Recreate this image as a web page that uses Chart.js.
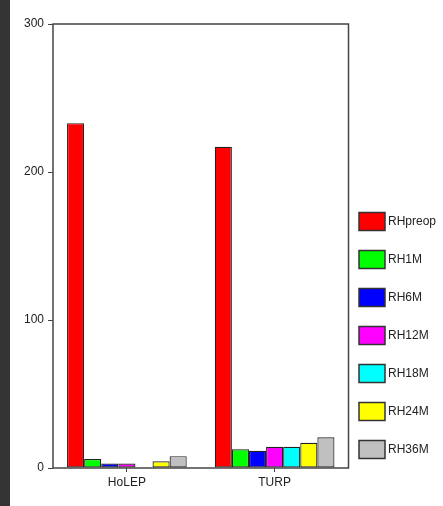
<!DOCTYPE html>
<html>
<head>
<meta charset="utf-8">
<script src="https://cdn.jsdelivr.net/npm/chart.js@4/dist/chart.umd.min.js"></script>
<style>
  html, body { margin: 0; padding: 0; background: #fff; }
  #wrap { position: relative; width: 443px; height: 506px; }
  #strip { position: absolute; left: 0; top: 0; width: 10px; height: 506px; background: #333; }
  canvas { position: absolute; left: 0; top: 0; }
</style>
</head>
<body>
<div id="wrap">
  <div id="strip"></div>
  <canvas id="chart" width="443" height="506"></canvas>
</div>
<script>
'use strict';

// groups on the x axis
var categories = ['HoLEP', 'TURP'];
// one series per follow-up time point
var seriesNames = ['RHpreop', 'RH1M', 'RH6M', 'RH12M', 'RH18M', 'RH24M', 'RH36M'];
var seriesColors = ['#ff0000', '#00ff00', '#0000ff', '#ff00ff', '#00ffff', '#ffff00', '#c0c0c0'];
var rhPreop = [233, 217];
var rh1M = [6, 12.6];
var rh6M = [3, 11.7];
var rh12M = [3, 14.4];
var rh18M = [0, 14.4];
var rh24M = [4.5, 17.1];
var rh36M = [8, 20.7];
var yTicks = [0, 100, 200, 300];

var seriesValues = [rhPreop, rh1M, rh6M, rh12M, rh18M, rh24M, rh36M];

var datasets = seriesNames.map(function(name, i) {
    return {
        label: name,
        data: seriesValues[i],
        backgroundColor: seriesColors[i],
        borderColor: '#222',
        borderWidth: 1.2,
        borderSkipped: false,
        categoryPercentage: 0.81,
        barPercentage: 1
    };
});

var textFont = { family: 'Liberation Sans, Arial, sans-serif', size: 12 };

// box around plot area
var frame = {
    id: 'frame',
    afterDraw: function(chart) {
        var a = chart.chartArea, ctx = chart.ctx;
        ctx.save();
        ctx.strokeStyle = '#444';
        ctx.lineWidth = 1.5;
        ctx.strokeRect(a.left, a.top, a.right - a.left, a.bottom - a.top);
        ctx.restore();
    }
};

// legend column on the right
var sideLegend = {
    id: 'sideLegend',
    afterDraw: function(chart) {
        var ctx = chart.ctx;
        ctx.save();
        ctx.font = '12px ' + textFont.family;
        ctx.textBaseline = 'middle';
        chart.data.datasets.forEach(function(ds, i) {
            var y = 212.5 + i * 38;
            ctx.fillStyle = ds.backgroundColor;
            ctx.fillRect(359, y, 26, 18);
            ctx.strokeStyle = '#333';
            ctx.lineWidth = 1.5;
            ctx.strokeRect(359, y, 26, 18);
            ctx.fillStyle = '#222';
            ctx.fillText(ds.label, 388, y + 9.5);
        });
        ctx.restore();
    }
};

new Chart(document.getElementById('chart').getContext('2d'), {
    type: 'bar',
    data: { labels: categories, datasets: datasets },
    options: {
        responsive: false,
        animation: false,
        layout: { padding: { top: 24, right: 94.5, left: 0, bottom: 0 } },
        plugins: {
            legend: { display: false },
            tooltip: { enabled: false }
        },
        scales: {
            x: {
                grid: { display: true, drawOnChartArea: false, offset: false, tickLength: 4, color: '#444', lineWidth: 1 },
                border: { display: false },
                ticks: { color: '#222', font: textFont, padding: 3 },
                afterFit: function(s) { s.height = 38; }
            },
            y: {
                min: 0,
                max: 300,
                afterBuildTicks: function(s) {
                    s.ticks = yTicks.map(function(v) { return { value: v }; });
                },
                grid: { display: true, drawOnChartArea: false, tickLength: 5, color: '#444', lineWidth: 1 },
                border: { display: false },
                ticks: { color: '#222', font: textFont, padding: 4 },
                afterFit: function(s) { s.width = 53; }
            }
        }
    },
    plugins: [frame, sideLegend]
});
</script>
</body>
</html>
